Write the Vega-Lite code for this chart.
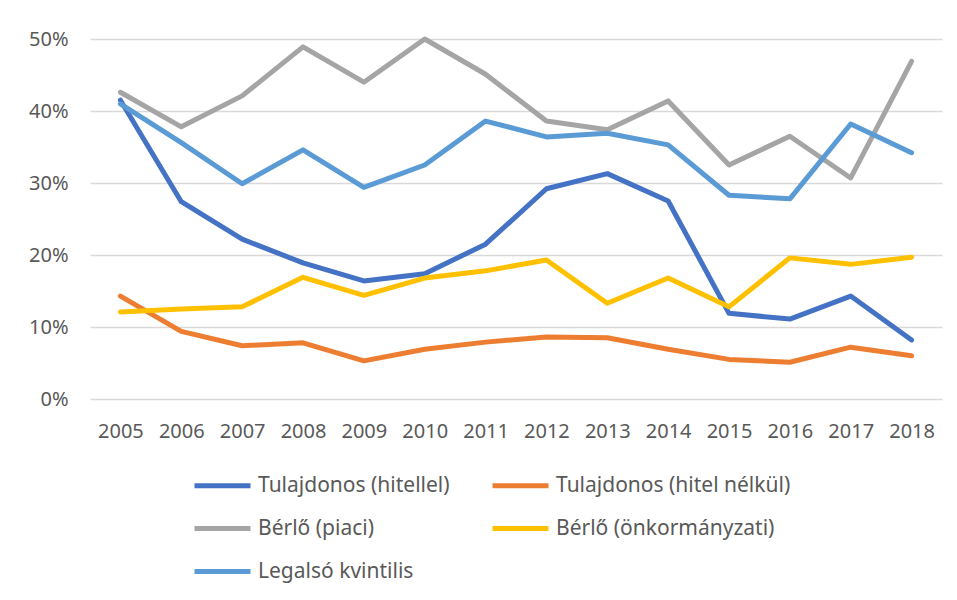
{
  "$schema": "https://vega.github.io/schema/vega-lite/v6.json",
  "autosize": {"type": "none"},
  "padding": {"left": 90, "top": 39, "right": 15, "bottom": 201},
  "width": 852,
  "height": 360,
  "background": "white",
  "config": {
    "view": {"stroke": null},
    "font": "Noto Sans",
    "axis": {"labelColor": "#595959", "labelFont": "Noto Sans", "labelFontSize": 20},
    "legend": {"labelColor": "#595959", "labelFont": "Noto Sans", "labelFontSize": 21}
  },
  "data": {
    "values": [
      {"year": "2005", "series": "Tulajdonos (hitellel)", "share": 0.415},
      {"year": "2006", "series": "Tulajdonos (hitellel)", "share": 0.274},
      {"year": "2007", "series": "Tulajdonos (hitellel)", "share": 0.222},
      {"year": "2008", "series": "Tulajdonos (hitellel)", "share": 0.189},
      {"year": "2009", "series": "Tulajdonos (hitellel)", "share": 0.164},
      {"year": "2010", "series": "Tulajdonos (hitellel)", "share": 0.174},
      {"year": "2011", "series": "Tulajdonos (hitellel)", "share": 0.215},
      {"year": "2012", "series": "Tulajdonos (hitellel)", "share": 0.292},
      {"year": "2013", "series": "Tulajdonos (hitellel)", "share": 0.313},
      {"year": "2014", "series": "Tulajdonos (hitellel)", "share": 0.275},
      {"year": "2015", "series": "Tulajdonos (hitellel)", "share": 0.119},
      {"year": "2016", "series": "Tulajdonos (hitellel)", "share": 0.111},
      {"year": "2017", "series": "Tulajdonos (hitellel)", "share": 0.143},
      {"year": "2018", "series": "Tulajdonos (hitellel)", "share": 0.082},
      {"year": "2005", "series": "Tulajdonos (hitel nélkül)", "share": 0.143},
      {"year": "2006", "series": "Tulajdonos (hitel nélkül)", "share": 0.094},
      {"year": "2007", "series": "Tulajdonos (hitel nélkül)", "share": 0.074},
      {"year": "2008", "series": "Tulajdonos (hitel nélkül)", "share": 0.078},
      {"year": "2009", "series": "Tulajdonos (hitel nélkül)", "share": 0.053},
      {"year": "2010", "series": "Tulajdonos (hitel nélkül)", "share": 0.069},
      {"year": "2011", "series": "Tulajdonos (hitel nélkül)", "share": 0.079},
      {"year": "2012", "series": "Tulajdonos (hitel nélkül)", "share": 0.086},
      {"year": "2013", "series": "Tulajdonos (hitel nélkül)", "share": 0.085},
      {"year": "2014", "series": "Tulajdonos (hitel nélkül)", "share": 0.069},
      {"year": "2015", "series": "Tulajdonos (hitel nélkül)", "share": 0.055},
      {"year": "2016", "series": "Tulajdonos (hitel nélkül)", "share": 0.051},
      {"year": "2017", "series": "Tulajdonos (hitel nélkül)", "share": 0.072},
      {"year": "2018", "series": "Tulajdonos (hitel nélkül)", "share": 0.060},
      {"year": "2005", "series": "Bérlő (piaci)", "share": 0.426},
      {"year": "2006", "series": "Bérlő (piaci)", "share": 0.378},
      {"year": "2007", "series": "Bérlő (piaci)", "share": 0.421},
      {"year": "2008", "series": "Bérlő (piaci)", "share": 0.489},
      {"year": "2009", "series": "Bérlő (piaci)", "share": 0.440},
      {"year": "2010", "series": "Bérlő (piaci)", "share": 0.500},
      {"year": "2011", "series": "Bérlő (piaci)", "share": 0.451},
      {"year": "2012", "series": "Bérlő (piaci)", "share": 0.386},
      {"year": "2013", "series": "Bérlő (piaci)", "share": 0.374},
      {"year": "2014", "series": "Bérlő (piaci)", "share": 0.414},
      {"year": "2015", "series": "Bérlő (piaci)", "share": 0.325},
      {"year": "2016", "series": "Bérlő (piaci)", "share": 0.365},
      {"year": "2017", "series": "Bérlő (piaci)", "share": 0.307},
      {"year": "2018", "series": "Bérlő (piaci)", "share": 0.469},
      {"year": "2005", "series": "Bérlő (önkormányzati)", "share": 0.121},
      {"year": "2006", "series": "Bérlő (önkormányzati)", "share": 0.125},
      {"year": "2007", "series": "Bérlő (önkormányzati)", "share": 0.128},
      {"year": "2008", "series": "Bérlő (önkormányzati)", "share": 0.169},
      {"year": "2009", "series": "Bérlő (önkormányzati)", "share": 0.144},
      {"year": "2010", "series": "Bérlő (önkormányzati)", "share": 0.168},
      {"year": "2011", "series": "Bérlő (önkormányzati)", "share": 0.178},
      {"year": "2012", "series": "Bérlő (önkormányzati)", "share": 0.193},
      {"year": "2013", "series": "Bérlő (önkormányzati)", "share": 0.133},
      {"year": "2014", "series": "Bérlő (önkormányzati)", "share": 0.168},
      {"year": "2015", "series": "Bérlő (önkormányzati)", "share": 0.128},
      {"year": "2016", "series": "Bérlő (önkormányzati)", "share": 0.196},
      {"year": "2017", "series": "Bérlő (önkormányzati)", "share": 0.187},
      {"year": "2018", "series": "Bérlő (önkormányzati)", "share": 0.197},
      {"year": "2005", "series": "Legalsó kvintilis", "share": 0.410},
      {"year": "2006", "series": "Legalsó kvintilis", "share": 0.356},
      {"year": "2007", "series": "Legalsó kvintilis", "share": 0.299},
      {"year": "2008", "series": "Legalsó kvintilis", "share": 0.346},
      {"year": "2009", "series": "Legalsó kvintilis", "share": 0.294},
      {"year": "2010", "series": "Legalsó kvintilis", "share": 0.325},
      {"year": "2011", "series": "Legalsó kvintilis", "share": 0.386},
      {"year": "2012", "series": "Legalsó kvintilis", "share": 0.364},
      {"year": "2013", "series": "Legalsó kvintilis", "share": 0.369},
      {"year": "2014", "series": "Legalsó kvintilis", "share": 0.353},
      {"year": "2015", "series": "Legalsó kvintilis", "share": 0.283},
      {"year": "2016", "series": "Legalsó kvintilis", "share": 0.278},
      {"year": "2017", "series": "Legalsó kvintilis", "share": 0.382},
      {"year": "2018", "series": "Legalsó kvintilis", "share": 0.342}
    ]
  },
  "mark": {"type": "line", "strokeWidth": 5, "strokeCap": "round", "strokeJoin": "round"},
  "encoding": {
    "x": {
      "field": "year", "type": "ordinal",
      "scale": {"type": "point", "padding": 0.5},
      "axis": {"title": null, "labelAngle": 0, "ticks": false, "domain": false, "grid": false, "labelPadding": 22}
    },
    "y": {
      "field": "share", "type": "quantitative",
      "scale": {"domain": [0, 0.5], "nice": false},
      "axis": {"title": null, "values": [0, 0.1, 0.2, 0.3, 0.4, 0.5], "format": ".0%", "ticks": false, "domain": false, "grid": true, "gridColor": "#D9D9D9", "gridWidth": 1.5, "labelPadding": 22}
    },
    "color": {
      "field": "series", "type": "nominal",
      "scale": {
        "domain": ["Tulajdonos (hitellel)", "Tulajdonos (hitel nélkül)", "Bérlő (piaci)", "Bérlő (önkormányzati)", "Legalsó kvintilis"],
        "range": ["#4472C4", "#ED7D31", "#A5A5A5", "#FFC000", "#5B9BD5"]
      },
      "legend": {
        "title": null, "orient": "none", "legendX": 102, "legendY": 416,
        "direction": "horizontal", "columns": 2, "columnPadding": 32, "rowPadding": 2,
        "symbolType": "stroke", "symbolSize": 3136, "symbolStrokeWidth": 5, "labelOffset": 5,
        "labelLimit": 400
      }
    }
  }
}
